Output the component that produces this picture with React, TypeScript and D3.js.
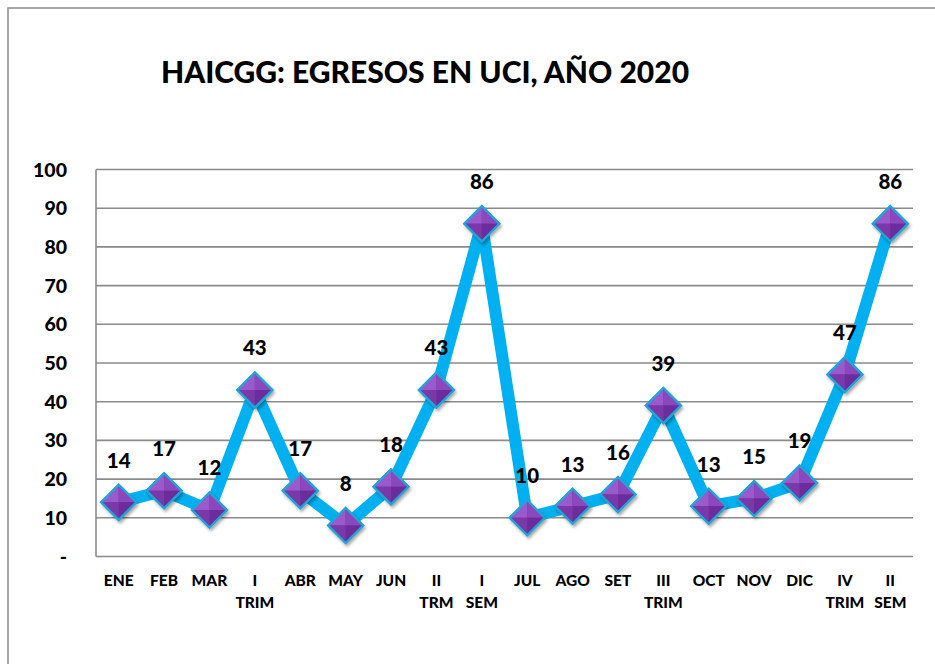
import React from "react";
import * as d3 from "d3";

const categories: string[][] = [
  ["ENE"], ["FEB"], ["MAR"], ["I", "TRIM"], ["ABR"], ["MAY"], ["JUN"], ["II", "TRM"], ["I", "SEM"],
  ["JUL"], ["AGO"], ["SET"], ["III", "TRIM"], ["OCT"], ["NOV"], ["DIC"], ["IV", "TRIM"], ["II", "SEM"],
];
const values: number[] = [14, 17, 12, 43, 17, 8, 18, 43, 86, 10, 13, 16, 39, 13, 15, 19, 47, 86];
const yTicks: number[] = [0, 10, 20, 30, 40, 50, 60, 70, 80, 90, 100];
const title = "HAICGG: EGRESOS EN UCI, AÑO 2020";

const W = 935, H = 664;
const plot = { left: 96, right: 913, top: 169.5, bottom: 556.5 };
const FONT = "Lato, 'Open Sans', 'Liberation Sans', sans-serif";

export default function App() {
  const x = d3.scaleBand<number>().domain(d3.range(categories.length)).range([plot.left, plot.right]);
  const y = d3.scaleLinear().domain([0, 100]).range([plot.bottom, plot.top]);
  const cx = (i: number) => (x(i) as number) + x.bandwidth() / 2;
  const line = d3.line<number>().x((_, i) => cx(i)).y((d) => y(d));
  const r = 17.5;

  return (
    <svg width={W} height={H} style={{ position: "absolute", left: 0, top: 0, background: "#fff" }}>
      <defs>
        <filter id="sh" x="-50%" y="-50%" width="200%" height="200%">
          <feDropShadow dx="1.5" dy="2.5" stdDeviation="1.8" floodColor="#000" floodOpacity="0.35" />
        </filter>
      </defs>
      <rect x={8} y={8} width={1000} height={1000} fill="#fff" stroke="#8c8c8c" strokeWidth={1.5} />
      <text x={425} y={83} textAnchor="middle" fontFamily={FONT} fontWeight={900} fontSize={30} fill="#000">{title}</text>
      {yTicks.map((t) => (
        <g key={t}>
          <line x1={plot.left} x2={plot.right} y1={y(t)} y2={y(t)} stroke="#8a8a8a" strokeWidth={1.6} />
          <text x={67} y={y(t)} dy="0.36em" textAnchor="end" fontFamily={FONT} fontWeight={900} fontSize={19.5} fill="#000">
            {t === 0 ? "-" : t}
          </text>
        </g>
      ))}
      <line x1={plot.left} x2={plot.left} y1={plot.top} y2={plot.bottom} stroke="#8a8a8a" strokeWidth={1.6} />
      {categories.map((c, i) => (
        <text key={i} x={cx(i)} y={586} textAnchor="middle" fontFamily={FONT} fontWeight={900} fontSize={15.5} fill="#000">
          {c.map((s, k) => (
            <tspan key={k} x={cx(i)} dy={k === 0 ? 0 : 22}>{s}</tspan>
          ))}
        </text>
      ))}
      <path d={line(values) || ""} fill="none" stroke="#00b0f0" strokeWidth={12} strokeLinejoin="miter" strokeMiterlimit={3} />
      {values.map((v, i) => {
        const px = cx(i), py = y(v);
        const T = [px, py - r], R = [px + r, py], B = [px, py + r], L = [px - r, py], C = [px, py];
        const tri = (a: number[], b: number[]) => `M${a[0]},${a[1]}L${b[0]},${b[1]}L${C[0]},${C[1]}Z`;
        return (
          <g key={i}>
            <g filter="url(#sh)">
              <path d={`M${T}L${R}L${B}L${L}Z`} fill="#7030a0" stroke="#1fa6d8" strokeWidth={2.2} />
            </g>
            <path d={tri(L, T)} fill="#9a5acb" />
            <path d={tri(T, R)} fill="#8b48bd" />
            <path d={tri(R, B)} fill="#6d2c9c" />
            <path d={tri(B, L)} fill="#7a38a9" />
            <path d={`M${T}L${R}L${B}L${L}Z`} fill="none" stroke="#1fa6d8" strokeWidth={2.2} />
            <text x={px} y={py - 42} dy="0.36em" textAnchor="middle" fontFamily={FONT} fontWeight={900} fontSize={20.5} fill="#000">{v}</text>
          </g>
        );
      })}
    </svg>
  );
}
